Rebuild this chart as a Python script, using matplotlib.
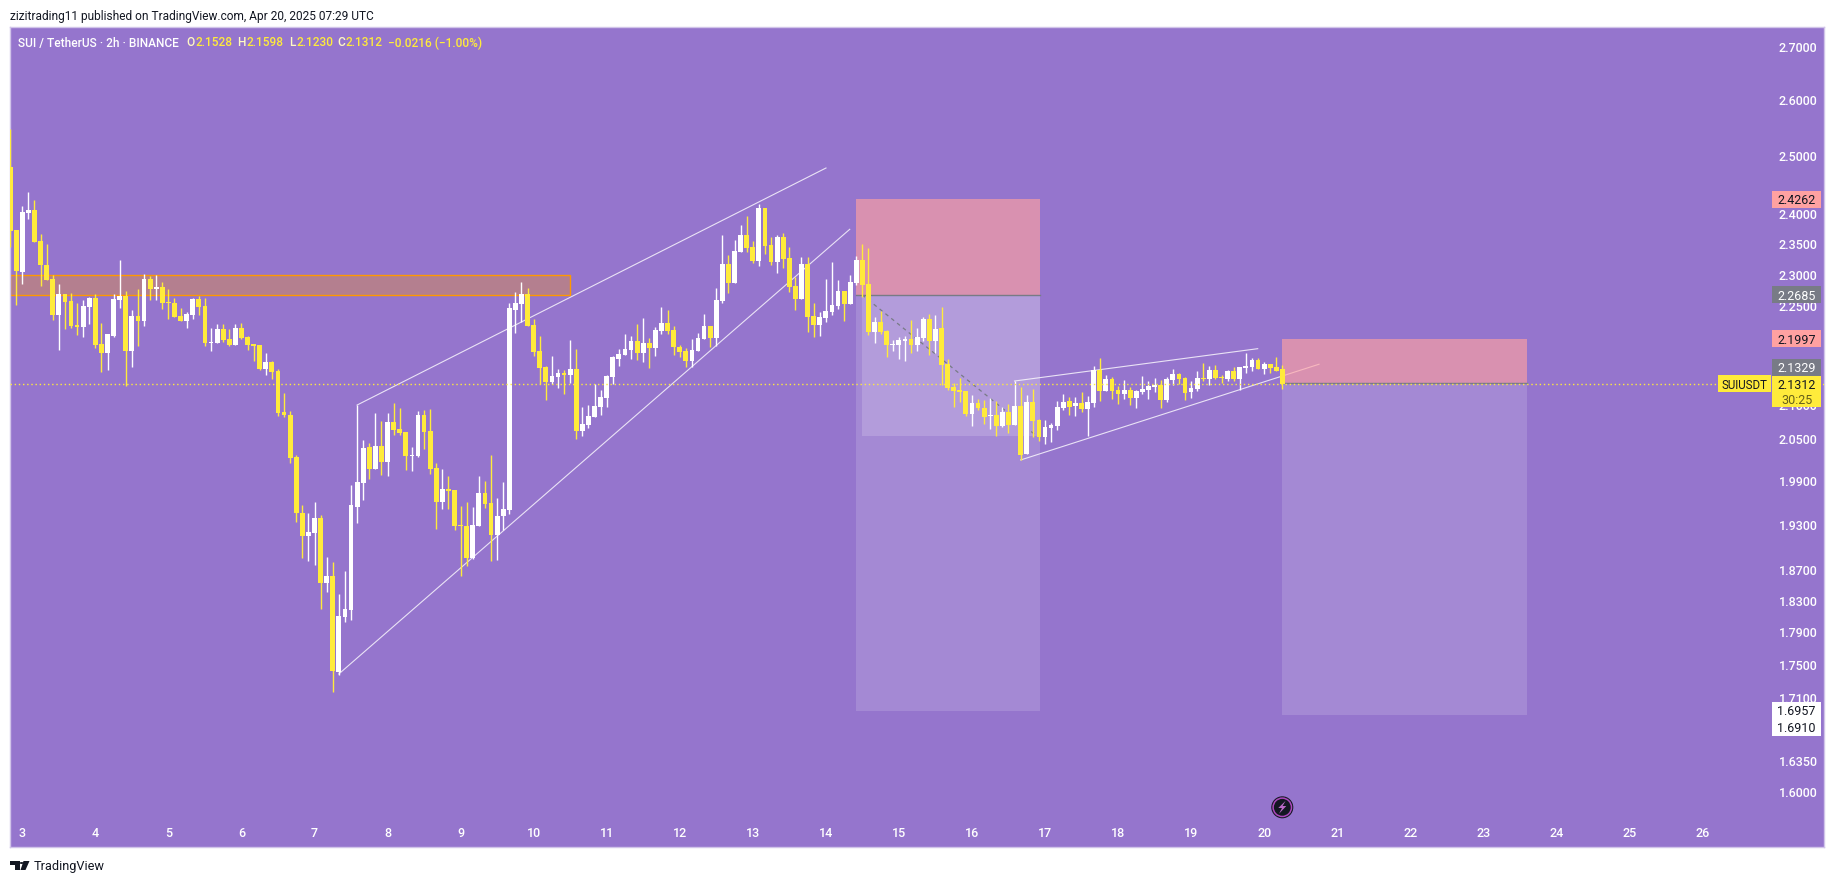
"""plot.py - SUI / TetherUS 2h chart, TradingView snapshot"""
import matplotlib
matplotlib.use("Agg")
import matplotlib.pyplot as plt
import numpy as np
from matplotlib.patches import Circle, Polygon, Rectangle
from matplotlib.ticker import NullLocator
from matplotlib.transforms import blended_transform_factory

plt.rcParams["font.family"] = ["Roboto", "DejaVu Sans"]

W, H = 1835, 883
BG = "#9575CD"
YELLOW = "#FFEB3B"
WHITE = "#FFFFFF"
PINK = "#FFA1A1"
GREY = "#787B86"
ORANGE = "#FF9800"

opens = [
    2.4814, 2.3740, 2.3051, 2.4026, 2.4076, 2.3558, 2.3165, 2.2938, 2.2365, 2.2698,
    2.2586, 2.2210, 2.2178, 2.2491, 2.2634, 2.1915, 2.1777, 2.2039, 2.2602, 2.2666,
    2.1808, 2.2350, 2.2271, 2.2938, 2.2778, 2.2810, 2.2570, 2.2555, 2.2350, 2.2271,
    2.2365, 2.2618, 2.2507, 2.1931, 2.1931, 2.2147, 2.1992, 2.1900, 2.2163, 2.2023,
    2.1915, 2.1900, 2.1534, 2.1641, 2.1504, 2.0894, 2.0850, 2.0245, 1.9464, 1.9153,
    1.9193, 1.9396, 1.8531, 1.8622, 1.7409, 1.8094, 1.8183, 1.9546, 1.9878, 2.0387,
    2.0074, 2.0401, 2.0174, 2.0748, 2.0646, 2.0603, 2.0259, 2.0259, 2.0850, 2.0618,
    2.0088, 1.9615, 1.9795, 1.9781, 1.9301, 1.9287, 1.8859, 1.9287, 1.9740, 1.9602,
    1.9166, 1.9423, 1.9505, 2.2444, 2.2539, 2.2698, 2.2210, 2.1808, 2.1565, 2.1338,
    2.1413, 2.1474, 2.1444, 2.1534, 2.0618, 2.0704, 2.0821, 2.0967, 2.1100, 2.1413,
    2.1686, 2.1747, 2.1823, 2.1962, 2.1777, 2.1931, 2.1854, 2.2116, 2.2240, 2.2132,
    2.1869, 2.1808, 2.1656, 2.1808, 2.1992, 2.2194, 2.2008, 2.2586, 2.3181, 2.2874,
    2.3377, 2.3657, 2.3459, 2.3230, 2.4110, 2.3492, 2.3213, 2.3624, 2.3279, 2.2826,
    2.2618, 2.3181, 2.2350, 2.2210, 2.2318, 2.2413, 2.2507, 2.2746, 2.2539, 2.2874,
    2.3246, 2.2858, 2.2101, 2.2256, 2.2116, 2.1900, 2.1900, 2.1962, 2.1992, 2.1900,
    2.2008, 2.2303, 2.1962, 2.2163, 2.1610, 2.1264, 2.1219, 2.1204, 2.0865, 2.1026,
    2.0952, 2.0835, 2.0850, 2.0690, 2.0894, 2.0704, 2.0982, 2.0287, 2.1041, 2.0777,
    2.0530, 2.0661, 2.0690, 2.0952, 2.1055, 2.0982, 2.1026, 2.0938, 2.1026, 2.1519,
    2.1204, 2.1383, 2.1219, 2.1159, 2.1219, 2.1100, 2.1189, 2.1219, 2.1264, 2.1294,
    2.1070, 2.1368, 2.1459, 2.1398, 2.1189, 2.1234, 2.1398, 2.1383, 2.1519, 2.1413,
    2.1383, 2.1504, 2.1383, 2.1549, 2.1565, 2.1671, 2.1534, 2.1610, 2.1565, 2.1528,
]
highs = [
    2.5490, 2.3740, 2.4143, 2.4382, 2.4245, 2.3674, 2.3508, 2.3002, 2.2858, 2.2698,
    2.2714, 2.2555, 2.2602, 2.2650, 2.2698, 2.2240, 2.2070, 2.2698, 2.3246, 2.2746,
    2.2444, 2.2778, 2.3019, 2.2986, 2.3002, 2.2890, 2.2778, 2.2634, 2.2476, 2.2413,
    2.2634, 2.2666, 2.2634, 2.2163, 2.2225, 2.2225, 2.2147, 2.2225, 2.2240, 2.2039,
    2.1915, 2.1900, 2.1777, 2.1656, 2.1534, 2.1174, 2.0908, 2.0273, 1.9574, 1.9464,
    1.9615, 1.9437, 1.8873, 1.8807, 1.8388, 1.8688, 1.9850, 2.0996, 2.0487, 2.0444,
    2.0879, 2.0762, 2.0879, 2.1026, 2.0952, 2.0603, 2.0387, 2.0908, 2.0923, 2.0938,
    2.0159, 2.0074, 1.9976, 1.9781, 1.9560, 1.9615, 1.9546, 1.9976, 1.9906, 2.0273,
    1.9671, 1.9892, 2.2555, 2.2730, 2.2890, 2.2794, 2.2303, 2.2039, 2.1580, 2.1732,
    2.1534, 2.1519, 2.1977, 2.1838, 2.0967, 2.0996, 2.1308, 2.1219, 2.1444, 2.1732,
    2.1838, 2.2070, 2.2039, 2.2225, 2.2318, 2.2008, 2.2178, 2.2491, 2.2444, 2.2194,
    2.1900, 2.1854, 2.1992, 2.2085, 2.2381, 2.2194, 2.2794, 2.3657, 2.3328, 2.3574,
    2.3824, 2.3975, 2.3558, 2.4177, 2.4110, 2.3624, 2.3657, 2.3690, 2.3459, 2.2970,
    2.3295, 2.3295, 2.2555, 2.2413, 2.2938, 2.3213, 2.2922, 2.2746, 2.3002, 2.3311,
    2.3508, 2.3443, 2.2334, 2.2428, 2.2132, 2.1977, 2.2023, 2.2039, 2.2287, 2.2163,
    2.2334, 2.2381, 2.2365, 2.2491, 2.1686, 2.1323, 2.1398, 2.1204, 2.1145, 2.1085,
    2.1070, 2.1100, 2.1055, 2.0967, 2.1011, 2.1353, 2.1264, 2.1145, 2.1234, 2.0792,
    2.0777, 2.0733, 2.1055, 2.1159, 2.1115, 2.1115, 2.1189, 2.1130, 2.1580, 2.1701,
    2.1444, 2.1413, 2.1279, 2.1368, 2.1264, 2.1219, 2.1429, 2.1353, 2.1398, 2.1368,
    2.1413, 2.1534, 2.1474, 2.1413, 2.1353, 2.1504, 2.1625, 2.1580, 2.1595, 2.1444,
    2.1519, 2.1565, 2.1565, 2.1777, 2.1701, 2.1701, 2.1641, 2.1610, 2.1717, 2.1598,
]
lows = [
    2.3464, 2.2523, 2.2858, 2.3925, 2.3541, 2.2826, 2.2922, 2.2287, 2.1823, 2.2147,
    2.2163, 2.2054, 2.2023, 2.2225, 2.1854, 2.1489, 2.1519, 2.2023, 2.2476, 2.1279,
    2.1565, 2.1885, 2.2194, 2.2602, 2.2602, 2.2460, 2.2303, 2.2334, 2.2271, 2.2163,
    2.2303, 2.2365, 2.1885, 2.1808, 2.1931, 2.1946, 2.1885, 2.1900, 2.1992, 2.1823,
    2.1656, 2.1519, 2.1444, 2.1383, 2.0835, 2.0821, 2.0159, 1.9342, 1.8859, 1.8820,
    1.8767, 1.8196, 1.8414, 1.7166, 1.7373, 1.8031, 1.8056, 1.9328, 1.9643, 1.9934,
    2.0074, 1.9990, 1.9976, 2.0559, 2.0559, 2.0060, 2.0046, 2.0245, 2.0358, 2.0004,
    1.9247, 1.9519, 1.9519, 1.9233, 1.8622, 1.8754, 1.8846, 1.9287, 1.9533, 1.8820,
    1.8833, 1.9233, 1.9451, 2.2085, 2.2256, 2.2194, 2.1732, 2.1308, 2.1070, 2.1308,
    2.1249, 2.1159, 2.1323, 2.0501, 2.0545, 2.0661, 2.0821, 2.0850, 2.0967, 2.1308,
    2.1580, 2.1747, 2.1686, 2.1671, 2.1641, 2.1549, 2.1732, 2.2070, 2.2070, 2.1747,
    2.1717, 2.1565, 2.1565, 2.1808, 2.1992, 2.1869, 2.1885, 2.2555, 2.2714, 2.2874,
    2.3377, 2.3377, 2.3197, 2.3148, 2.3344, 2.3165, 2.3035, 2.3116, 2.2730, 2.2444,
    2.2618, 2.2101, 2.2023, 2.2039, 2.2256, 2.2365, 2.2460, 2.2271, 2.2539, 2.2842,
    2.2650, 2.2054, 2.1931, 2.2070, 2.1717, 2.1808, 2.1686, 2.1656, 2.1777, 2.1808,
    2.1962, 2.1747, 2.1777, 2.1293, 2.1219, 2.0967, 2.1041, 2.0835, 2.0690, 2.0923,
    2.0719, 2.0646, 2.0545, 2.0675, 2.0589, 2.0704, 2.0202, 2.0287, 2.0530, 2.0473,
    2.0430, 2.0459, 2.0632, 2.0923, 2.0850, 2.0835, 2.0894, 2.0545, 2.0967, 2.1055,
    2.1204, 2.1085, 2.1011, 2.1085, 2.0996, 2.0952, 2.1159, 2.1085, 2.1189, 2.0952,
    2.1041, 2.1294, 2.1308, 2.1070, 2.1100, 2.1204, 2.1353, 2.1294, 2.1383, 2.1323,
    2.1353, 2.1353, 2.1219, 2.1474, 2.1504, 2.1534, 2.1459, 2.1474, 2.1504, 2.1230,
]
closes = [
    2.3723, 2.3067, 2.4042, 2.4076, 2.3541, 2.3165, 2.2922, 2.2365, 2.2698, 2.2570,
    2.2194, 2.2178, 2.2507, 2.2634, 2.1900, 2.1777, 2.2070, 2.2618, 2.2666, 2.1808,
    2.2350, 2.2271, 2.2938, 2.2778, 2.2810, 2.2555, 2.2555, 2.2334, 2.2271, 2.2381,
    2.2618, 2.2491, 2.1931, 2.1946, 2.2147, 2.1977, 2.1900, 2.2163, 2.2008, 2.1900,
    2.1885, 2.1534, 2.1641, 2.1489, 2.0879, 2.0850, 2.0230, 1.9464, 1.9153, 1.9206,
    1.9396, 1.8531, 1.8622, 1.7422, 1.8107, 1.8196, 1.9574, 1.9892, 2.0373, 2.0074,
    2.0401, 2.0174, 2.0748, 2.0632, 2.0589, 2.0259, 2.0273, 2.0850, 2.0603, 2.0074,
    1.9615, 1.9795, 1.9767, 1.9287, 1.9287, 1.8859, 1.9301, 1.9740, 1.9588, 1.9166,
    1.9423, 1.9519, 2.2476, 2.2555, 2.2698, 2.2194, 2.1792, 2.1549, 2.1338, 2.1429,
    2.1474, 2.1444, 2.1534, 2.0618, 2.0719, 2.0835, 2.0982, 2.1115, 2.1429, 2.1717,
    2.1762, 2.1838, 2.1962, 2.1777, 2.1931, 2.1854, 2.2132, 2.2240, 2.2116, 2.1869,
    2.1792, 2.1656, 2.1823, 2.2008, 2.2194, 2.2008, 2.2602, 2.3181, 2.2874, 2.3394,
    2.3657, 2.3443, 2.3230, 2.4110, 2.3476, 2.3213, 2.3624, 2.3262, 2.2810, 2.2618,
    2.3181, 2.2334, 2.2210, 2.2334, 2.2428, 2.2523, 2.2746, 2.2539, 2.2890, 2.3246,
    2.2842, 2.2101, 2.2256, 2.2101, 2.1900, 2.1915, 2.1977, 2.1992, 2.1900, 2.2023,
    2.2303, 2.1962, 2.2147, 2.1595, 2.1249, 2.1204, 2.1189, 2.0865, 2.1026, 2.0952,
    2.0821, 2.0850, 2.0690, 2.0894, 2.0704, 2.0982, 2.0273, 2.1041, 2.0762, 2.0530,
    2.0675, 2.0704, 2.0967, 2.1041, 2.0967, 2.1026, 2.0938, 2.1041, 2.1519, 2.1204,
    2.1383, 2.1204, 2.1159, 2.1219, 2.1100, 2.1204, 2.1234, 2.1279, 2.1294, 2.1070,
    2.1383, 2.1459, 2.1383, 2.1174, 2.1249, 2.1398, 2.1383, 2.1519, 2.1398, 2.1398,
    2.1504, 2.1383, 2.1565, 2.1580, 2.1671, 2.1534, 2.1610, 2.1549, 2.1504, 2.1312,
]

# first full day on the chart is Apr 3, at bar index 2, 12 bars a day
days = 3 + (np.arange(len(opens)) - 2) / 12

day_ticks = list(range(3, 27))
price_ticks = [2.7, 2.6, 2.5, 2.4, 2.35, 2.3, 2.25, 2.1, 2.05, 1.99, 1.93, 1.87,
               1.83, 1.79, 1.75, 1.71, 1.635, 1.6]

# (day, price) ends of the drawn channel lines
channel_lines = [
    ([7.583, 14.002], [2.0996, 2.4796]),
    ([7.333, 14.327], [1.7385, 2.3752]),
    ([16.583, 19.912], [2.1353, 2.1843]),
    ([16.667, 20.751], [2.0202, 2.1606]),
]

sr_zone_days = [2.83, 10.498]
sr_zone_prices = [2.2685, 2.3002]

# short positions: start, end, stop, entry, target
pos_starts = [14.409, 20.244]
pos_ends = [16.932, 23.598]
pos_stops = [2.4262, 2.1997]
pos_entries = [2.2685, 2.1329]
pos_targets = [1.6937, 1.6890]

profit_days = [14.496, 16.886]
profit_prices = [2.2685, 2.0545]

last_price = 2.1312

fig = plt.figure(figsize=(W / 100, H / 100), dpi=100, facecolor="white")
ax = fig.add_axes([10 / W, 1 - 847 / H, 1814 / W, 820 / H], facecolor=BG)
ax.set_yscale("log")
ax.set_xlim(2.8316, 27.664)
ax.set_ylim(1.5397, 2.7375)

# zones below the candles
ax.add_patch(Rectangle((sr_zone_days[0], sr_zone_prices[0]), sr_zone_days[1] - sr_zone_days[0],
                       sr_zone_prices[1] - sr_zone_prices[0], facecolor=ORANGE, alpha=0.3,
                       edgecolor="none", zorder=2))
ax.add_patch(Rectangle((sr_zone_days[0], sr_zone_prices[0]), sr_zone_days[1] - sr_zone_days[0],
                       sr_zone_prices[1] - sr_zone_prices[0], fill=False, edgecolor=ORANGE,
                       linewidth=1, zorder=2))

for xs, ys in channel_lines:
    ax.plot(xs, ys, color="#F3EFFA", linewidth=0.8, alpha=0.9, zorder=1.5)

for s, e, stop, entry, target in zip(pos_starts, pos_ends, pos_stops, pos_entries, pos_targets):
    ax.add_patch(Rectangle((s, entry), e - s, stop - entry, facecolor=PINK, alpha=0.65,
                           edgecolor="none", zorder=2))
    ax.add_patch(Rectangle((s, target), e - s, entry - target, facecolor=WHITE, alpha=0.15,
                           edgecolor="none", zorder=2))
    ax.plot([s, e], [entry, entry], color=GREY, linewidth=1, zorder=2.2)

ax.add_patch(Rectangle((profit_days[0], profit_prices[1]), pos_ends[0] - profit_days[0],
                       profit_prices[0] - profit_prices[1], facecolor=WHITE, alpha=0.17,
                       edgecolor="none", zorder=2.1))
ax.plot(profit_days, profit_prices, color=GREY, linewidth=0.9, linestyle=(0, (3, 3)), zorder=2.2)

# candles
o = np.array(opens)
c = np.array(closes)
colors = [YELLOW if cl < op else WHITE for op, cl in zip(opens, closes)]
ax.vlines(days, lows, highs, colors=colors, linewidth=1, zorder=4)
ax.bar(days, np.abs(c - o), bottom=np.minimum(o, c), width=0.0657, color=colors,
       linewidth=0, zorder=4.1)

ax.axhline(last_price, color=YELLOW, linewidth=1, linestyle=(0, (1, 2)), zorder=4.5)

# axes and tick text inside the frame, like the TradingView scales
ax.set_xticks(day_ticks)
ax.set_xticklabels([str(d) for d in day_ticks])
ax.yaxis.tick_right()
ax.yaxis.set_minor_locator(NullLocator())
ax.set_yticks(price_ticks)
ax.set_yticklabels([f"{p:.4f}" for p in price_ticks])
ax.tick_params(axis="x", length=0, pad=-14.6, labelsize=9, labelcolor=WHITE)
ax.tick_params(axis="y", length=0, pad=-32.5, labelsize=9, labelcolor=WHITE)
for lab in ax.get_xticklabels() + ax.get_yticklabels():
    lab.set_fontweight("medium")
for sp in ax.spines.values():
    sp.set_color("#D1C4E9")
    sp.set_linewidth(1)

# price labels on the scale, in the order of the stack
blend = blended_transform_factory(ax.transAxes, ax.transData)
box_x0 = (1772 - 10) / 1814
box_w = 49 / 1814
box_f = np.exp(8.5 / 1425)
txt_x = (1796.5 - 10) / 1814
label_prices = [2.4262, 2.2685, 2.1997, 2.1557]
label_texts = ["2.4262", "2.2685", "2.1997", "2.1329"]
label_faces = [PINK, GREY, PINK, GREY]
label_inks = ["#131722", WHITE, "#131722", WHITE]
for p, t, f, k in zip(label_prices, label_texts, label_faces, label_inks):
    ax.add_patch(Rectangle((box_x0, p / box_f), box_w, p * box_f - p / box_f, transform=blend,
                           facecolor=f, edgecolor="none", zorder=6))
    ax.text(txt_x, p, t, transform=blend, ha="center", va="center_baseline", fontsize=9,
            color=k, zorder=7)

ax.add_patch(Rectangle((box_x0, 2.0967), box_w, 2.1428 - 2.0967, transform=blend,
                       facecolor=YELLOW, edgecolor="none", zorder=6))
ax.add_patch(Rectangle(((1718 - 10) / 1814, last_price / box_f), 53 / 1814,
                       last_price * box_f - last_price / box_f, transform=blend,
                       facecolor=YELLOW, edgecolor="none", zorder=6))
ax.text((1744.5 - 10) / 1814, last_price, "SUIUSDT", transform=blend, ha="center",
        va="center_baseline", fontsize=8.3, color="#131722", zorder=7)
ax.text(txt_x, last_price, "2.1312", transform=blend, ha="center", va="center_baseline",
        fontsize=9, color="#131722", zorder=7)
ax.text(txt_x, 2.1089, "30:25", transform=blend, ha="center", va="center_baseline",
        fontsize=9, color="#66601A", zorder=7)

ax.add_patch(Rectangle((box_x0, 1.6648), box_w, 1.7046 - 1.6648, transform=blend,
                       facecolor=WHITE, edgecolor="none", zorder=6))
ax.text(txt_x, 1.6951, "1.6957", transform=blend, ha="center", va="center_baseline",
        fontsize=9, color="#131722", zorder=7)
ax.text(txt_x, 1.6744, "1.6910", transform=blend, ha="center", va="center_baseline",
        fontsize=9, color="#131722", zorder=7)

# header and legend
def fx(px):
    return px / W

def fy(py):
    return 1 - py / H

fig.text(fx(10), fy(15), "zizitrading11 published on TradingView.com, Apr 20, 2025 07:29 UTC",
         fontsize=8.6, color="#131722", va="center_baseline")

fig.text(fx(17.5), fy(41.5), "SUI / TetherUS · 2h · BINANCE", fontsize=8.6, color=WHITE,
         va="center_baseline", fontweight="medium")
legend_x = [186, 237, 289, 337]
legend_letters = ["O", "H", "L", "C"]
legend_values = ["2.1528", "2.1598", "2.1230", "2.1312"]
for px, le, val in zip(legend_x, legend_letters, legend_values):
    txt = fig.text(fx(px), fy(41.5), le, fontsize=8.6, color="#FFF9C4", va="center_baseline",
                   fontweight="medium")
    fig.canvas.draw()
    adv = txt.get_window_extent().width
    fig.text(fx(px + adv + 0.8), fy(41.5), val, fontsize=8.6, color=YELLOW, va="center_baseline",
             fontweight="medium")
fig.text(fx(388), fy(41.5), "−0.0216 (−1.00%)", fontsize=8.6, color=YELLOW,
         va="center_baseline", fontweight="medium")

# lightning badge, its centre sits under the last bar
badge_tf = fig.dpi_scale_trans
bx, by = 1282.3 / 100, (H - 807.3) / 100
ax.add_patch(Circle((bx, by), 0.11, transform=badge_tf, facecolor="#131722", edgecolor="none",
                    zorder=6))
ax.add_patch(Circle((bx, by), 0.092, transform=badge_tf, facecolor="#131722", edgecolor="#AB47BC",
                    linewidth=1.1, zorder=6.1))
ax.add_patch(Polygon(np.array([[0.033, 0.065], [-0.04, -0.007], [-0.003, -0.007], [-0.033, -0.065],
                               [0.04, 0.013], [0.003, 0.013]]) + [bx, by], closed=True,
                     transform=badge_tf, facecolor="#BA68C8", edgecolor="none", zorder=6.2))

# TradingView logo and wordmark
logo_ink = "#131722"
for pts in (
    [(10, 861), (19.5, 861), (19.5, 870), (15, 870), (15, 865), (10, 865)],
    [(23.5, 861), (29.5, 861), (25.5, 870), (20.5, 870)],
):
    fig.add_artist(Polygon([(fx(x), fy(y)) for x, y in pts], closed=True, facecolor=logo_ink,
                           edgecolor="none", transform=fig.transFigure))
fig.add_artist(Circle((fx(21.6), fy(863)), 2.0 / W, facecolor=logo_ink, edgecolor="none",
                      transform=fig.transFigure))
fig.text(fx(34), fy(865), "TradingView", fontsize=9.2, color=logo_ink, va="center_baseline")

fig.savefig("out.png", dpi=100, facecolor="white")
print("saved out.png")
